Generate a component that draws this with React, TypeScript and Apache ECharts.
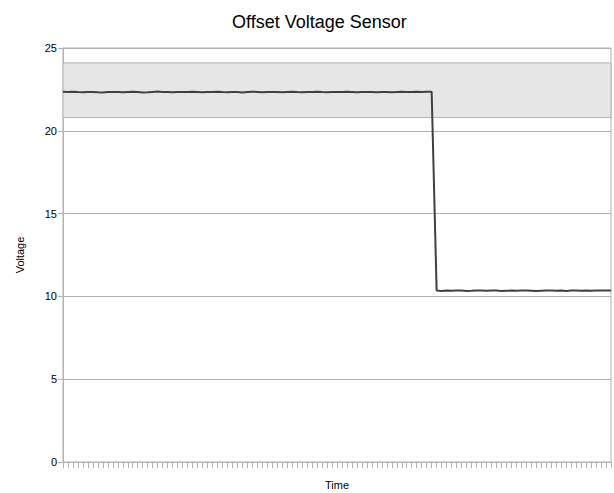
import React, { useEffect, useRef } from "react";
import * as echarts from "echarts";

const highValues = [
  22.36, 22.35, 22.36, 22.34, 22.33, 22.34, 22.35, 22.33, 22.32, 22.34,
  22.35, 22.34, 22.33, 22.35, 22.36, 22.34, 22.32, 22.33, 22.35, 22.37,
  22.34, 22.35, 22.33, 22.34, 22.35, 22.34, 22.36, 22.35, 22.33, 22.34,
  22.35, 22.36, 22.34, 22.33, 22.35, 22.34, 22.32, 22.34, 22.36, 22.35,
  22.33, 22.34, 22.35, 22.34, 22.33, 22.35, 22.36, 22.34, 22.33, 22.34,
  22.35, 22.36, 22.34, 22.33, 22.34, 22.35, 22.34, 22.36, 22.35, 22.33,
  22.34, 22.35, 22.34, 22.33, 22.35, 22.34, 22.33, 22.35, 22.36, 22.34,
  22.35, 22.36, 22.35, 22.36, 22.36,
];
const lowValues = [
  10.36, 10.33, 10.35, 10.34, 10.36, 10.35, 10.33, 10.34, 10.36, 10.35,
  10.34, 10.36, 10.35, 10.33, 10.34, 10.35, 10.34, 10.36, 10.35, 10.34,
  10.32, 10.34, 10.35, 10.36, 10.34, 10.35, 10.33, 10.35, 10.36, 10.34,
  10.35, 10.34, 10.35, 10.36, 10.35, 10.35,
];
const voltage = [...highValues, ...lowValues];
const timeLabels = voltage.map((_, i) => String(i + 1));
const bandLow = 20.8;
const bandHigh = 24.1;
const yTicks = { min: 0, max: 25, interval: 5 };

const FONT = "'Liberation Sans', Arial, sans-serif";
const GRAY = "#b3b3b3";

export default function App() {
  const ref = useRef<HTMLDivElement>(null);
  useEffect(() => {
    const chart = echarts.init(ref.current!, null, { renderer: "svg" });
    chart.setOption({
      animation: false,
      backgroundColor: "#ffffff",
      textStyle: { fontFamily: FONT },
      title: {
        text: "Offset Voltage Sensor",
        left: 227,
        top: 8,
        textStyle: { fontFamily: FONT, fontSize: 18, fontWeight: "normal", color: "#000" },
      },
      grid: {
        left: 63,
        right: 3,
        top: 48,
        bottom: 31,
        outerBoundsMode: "none",
        containLabel: false,
        show: true,
        borderColor: GRAY,
        borderWidth: 1,
        backgroundColor: "transparent",
      },
      xAxis: {
        type: "category",
        data: timeLabels,
        boundaryGap: false,
        name: "Time",
        nameLocation: "middle",
        nameGap: 17,
        nameTextStyle: { fontFamily: FONT, fontSize: 11, color: "#000" },
        axisLine: { show: true, lineStyle: { color: GRAY, width: 1 } },
        axisTick: { show: true, interval: 0, length: 6, lineStyle: { color: GRAY } },
        axisLabel: { show: false },
        splitLine: { show: false },
      },
      yAxis: {
        type: "value",
        min: yTicks.min,
        max: yTicks.max,
        interval: yTicks.interval,
        name: "Voltage",
        nameLocation: "middle",
        nameGap: 38,
        nameTextStyle: { fontFamily: FONT, fontSize: 11, color: "#000" },
        axisLine: { show: true, lineStyle: { color: GRAY, width: 1 } },
        axisTick: { show: true, length: 5, lineStyle: { color: GRAY } },
        axisLabel: { fontFamily: FONT, fontSize: 11, color: "#000", margin: 6 },
        splitLine: { show: true, lineStyle: { color: GRAY, width: 1 } },
      },
      series: [
        {
          type: "line",
          data: [],
          z: 1,
          silent: true,
          markArea: {
            silent: true,
            itemStyle: { color: "#e6e6e6", borderColor: GRAY, borderWidth: 1 },
            data: [[{ yAxis: bandLow }, { yAxis: bandHigh }]],
          },
        },
        {
          type: "line",
          data: voltage,
          z: 5,
          symbol: "none",
          lineStyle: { color: "#404040", width: 2 },
        },
      ],
    });
    return () => chart.dispose();
  }, []);
  return (
    <div
      ref={ref}
      style={{ position: "fixed", left: 0, top: 0, width: 614, height: 493 }}
    />
  );
}
